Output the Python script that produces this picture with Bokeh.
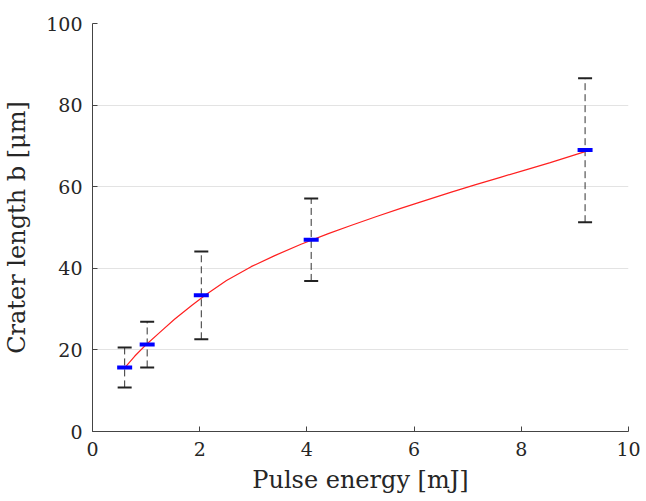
from bokeh.plotting import figure
from bokeh.models import ColumnDataSource, FixedTicker, Range1d
from bokeh.embed import file_html
from bokeh.resources import INLINE

# Measured data
energy = [0.60, 1.02, 2.03, 4.08, 9.19]
length = [15.7, 21.3, 33.4, 47.0, 69.0]
upper = [20.6, 26.9, 44.1, 57.1, 86.6]
lower = [10.8, 15.7, 22.6, 36.9, 51.3]

# Fit curve
fit_x = [0.60, 0.79, 1.01, 1.23, 1.53, 1.85, 2.12, 2.50, 2.96, 3.40, 3.89,
         4.40, 4.82, 5.30, 5.75, 6.20, 6.68, 7.15, 7.61, 8.10, 8.54, 9.19]
fit_y = [15.6, 18.5, 21.4, 24.0, 27.5, 30.9, 33.6, 37.0, 40.4, 43.1, 45.9,
         48.5, 50.5, 52.7, 54.7, 56.6, 58.6, 60.5, 62.3, 64.2, 65.9, 68.6]

x_ticks = [0, 2, 4, 6, 8, 10]
y_ticks = [0, 20, 40, 60, 80, 100]

FONT = "DejaVu Serif"

p = figure(width=646, height=501, output_backend="svg", toolbar_location=None,
           x_range=Range1d(0, 10), y_range=Range1d(0, 100),
           min_border_left=91, min_border_right=18, min_border_top=23, min_border_bottom=70)
p.outline_line_color = None
p.background_fill_color = "white"

src = ColumnDataSource(dict(x=energy, y=length, up=upper, lo=lower))

p.segment(x0="x", y0="lo", x1="x", y1="up", source=src, line_color="#333333",
          line_width=1, line_dash="7 4")
p.rect(x="x", y="up", width=14, height=2, width_units="screen", height_units="screen",
       source=src, fill_color="#222222", line_color=None)
p.rect(x="x", y="lo", width=14, height=2, width_units="screen", height_units="screen",
       source=src, fill_color="#222222", line_color=None)

p.line(fit_x, fit_y, line_color="#ff2020", line_width=1.2)

p.rect(x="x", y="y", width=15, height=4, width_units="screen", height_units="screen",
       source=src, fill_color="#0000ff", line_color=None)

p.xgrid.grid_line_color = None
p.ygrid.grid_line_color = "#e3e3e3"
p.ygrid.grid_line_width = 1

p.xaxis.ticker = FixedTicker(ticks=x_ticks)
p.yaxis.ticker = FixedTicker(ticks=y_ticks)
for ax in (p.xaxis[0], p.yaxis[0]):
    ax.axis_line_color = "#444444"
    ax.major_tick_line_color = "#444444"
    ax.major_tick_in = 5
    ax.major_tick_out = 0
    ax.minor_tick_line_color = None
    ax.major_label_text_font = FONT
    ax.major_label_text_font_size = "19px"
    ax.major_label_text_color = "#262626"
    ax.axis_label_text_font = FONT
    ax.axis_label_text_font_size = "24px"
    ax.axis_label_text_font_style = "normal"
    ax.axis_label_text_color = "#262626"

p.xaxis.axis_label = "Pulse energy [mJ]"
p.yaxis.axis_label = "Crater length b [μm]"
p.xaxis.major_label_standoff = 10
p.yaxis.major_label_standoff = 10
p.xaxis.axis_label_standoff = 7
p.yaxis.axis_label_standoff = 12

open("out.html", "w").write(file_html(p, INLINE))
